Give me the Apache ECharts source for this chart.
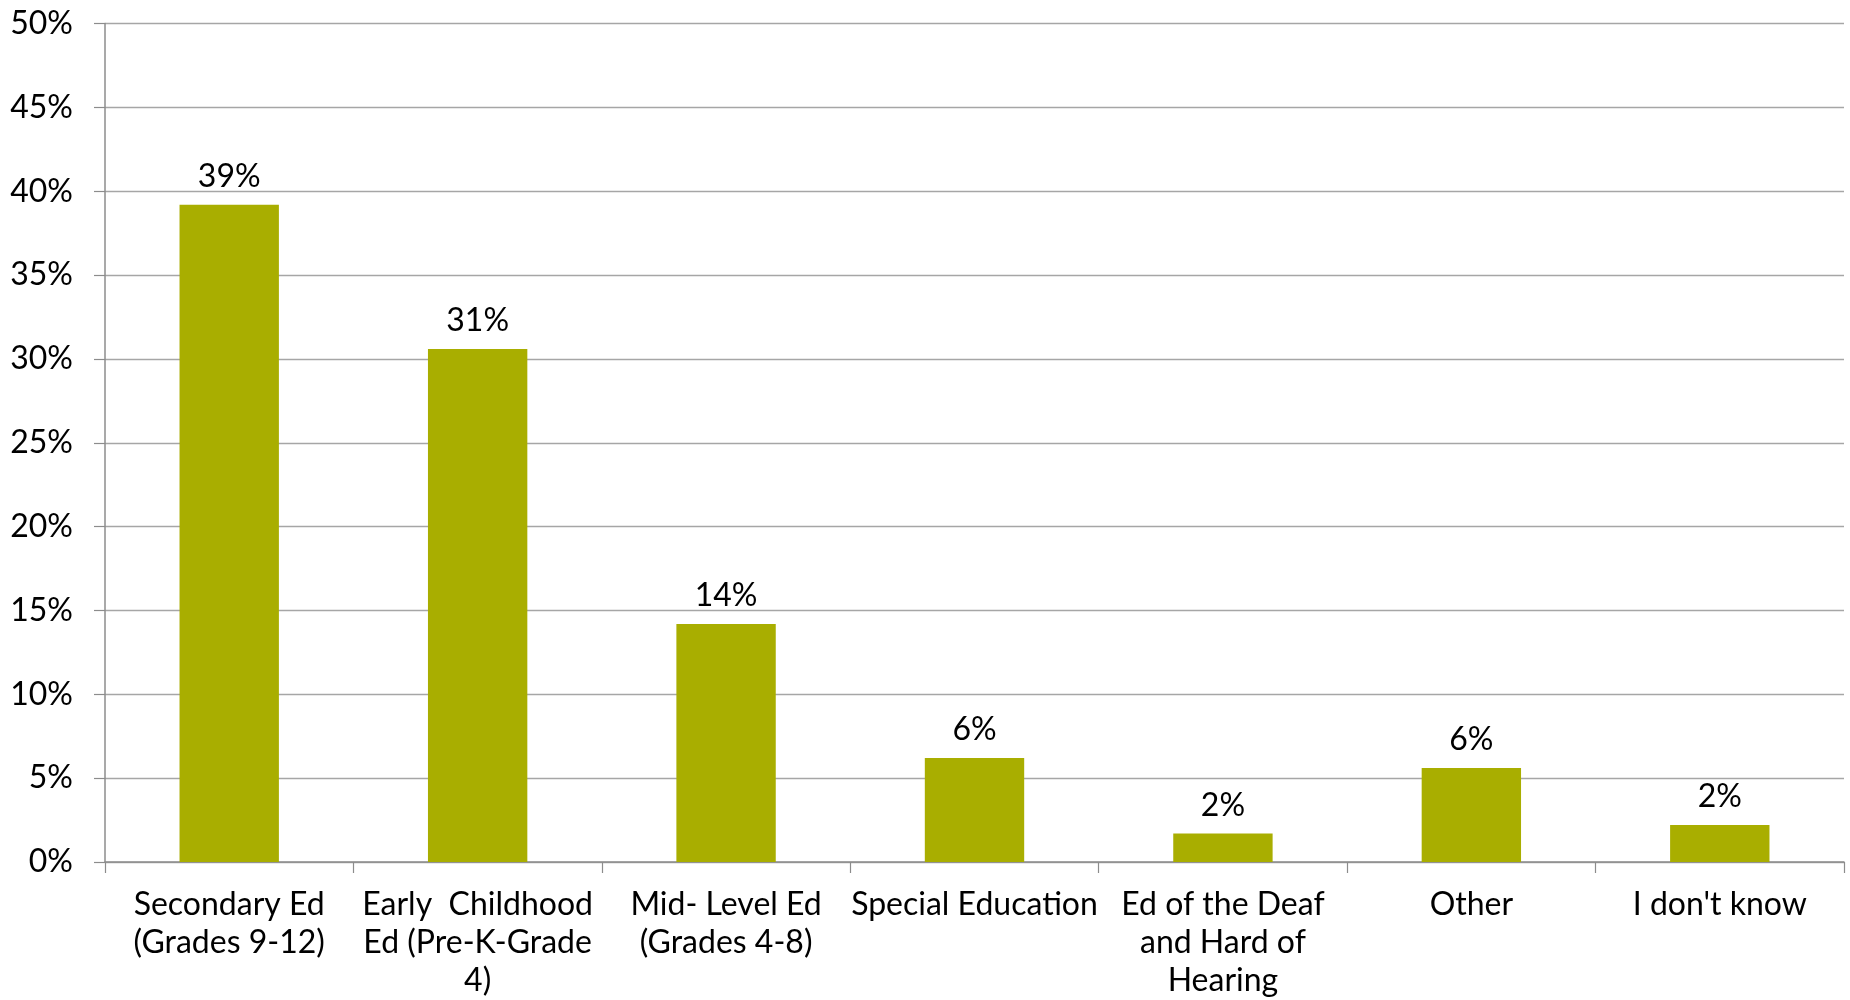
<!DOCTYPE html>
<html>
<head>
<meta charset="utf-8">
<script src="https://cdn.jsdelivr.net/npm/echarts@6/dist/echarts.min.js"></script>
<style>
html,body{margin:0;padding:0;background:#fff;}
#chart{width:1850px;height:1000px;}
</style>
</head>
<body>
<div id="chart"></div>
<script>
var categories = [
  "Secondary Ed\n(Grades 9-12)",
  "Early  Childhood\nEd (Pre-K-Grade\n4)",
  "Mid- Level Ed\n(Grades 4-8)",
  "Special Education",
  "Ed of the Deaf\nand Hard of\nHearing",
  "Other",
  "I don't know"
];
var values = [39.2, 30.6, 14.2, 6.2, 1.7, 5.6, 2.2];
var yTicks = [0, 5, 10, 15, 20, 25, 30, 35, 40, 45, 50];

var chart = echarts.init(document.getElementById('chart'), null, {renderer: 'canvas'});
var font = 'Lato, "Open Sans", sans-serif';
chart.setOption({
  animation: false,
  backgroundColor: '#ffffff',
  textStyle: {fontFamily: font},
  grid: {left: 105, right: 6, top: 23.6, bottom: 135, containLabel: false},
  xAxis: {
    type: 'category',
    data: categories,
    axisLine: {show: true, lineStyle: {color: '#8c8c8c', width: 1.5}},
    axisTick: {show: true, length: 11, lineStyle: {color: '#8c8c8c', width: 1.2}},
    axisLabel: {
      interval: 0, margin: 24, color: '#000', fontSize: 32, lineHeight: 38,
      fontFamily: font, align: 'center'
    },
    splitLine: {show: false}
  },
  yAxis: {
    type: 'value',
    min: yTicks[0], max: yTicks[yTicks.length - 1], interval: 5,
    axisLine: {show: true, lineStyle: {color: '#8c8c8c', width: 1.5}},
    axisTick: {show: true, length: 11, lineStyle: {color: '#8c8c8c', width: 1.2}},
    axisLabel: {
      margin: 32, color: '#000', fontSize: 32, fontFamily: font,
      formatter: function (v) { return v + '%'; }
    },
    splitLine: {show: true, lineStyle: {color: '#a6a6a6', width: 1.3}}
  },
  series: [{
    type: 'bar',
    data: values,
    barWidth: '40%',
    itemStyle: {color: '#a9ae00'},
    label: {
      show: true, position: 'top', distance: 12, color: '#000',
      fontSize: 32, fontFamily: font,
      formatter: function (p) { return Math.round(p.value) + '%'; }
    }
  }]
});
</script>
</body>
</html>
